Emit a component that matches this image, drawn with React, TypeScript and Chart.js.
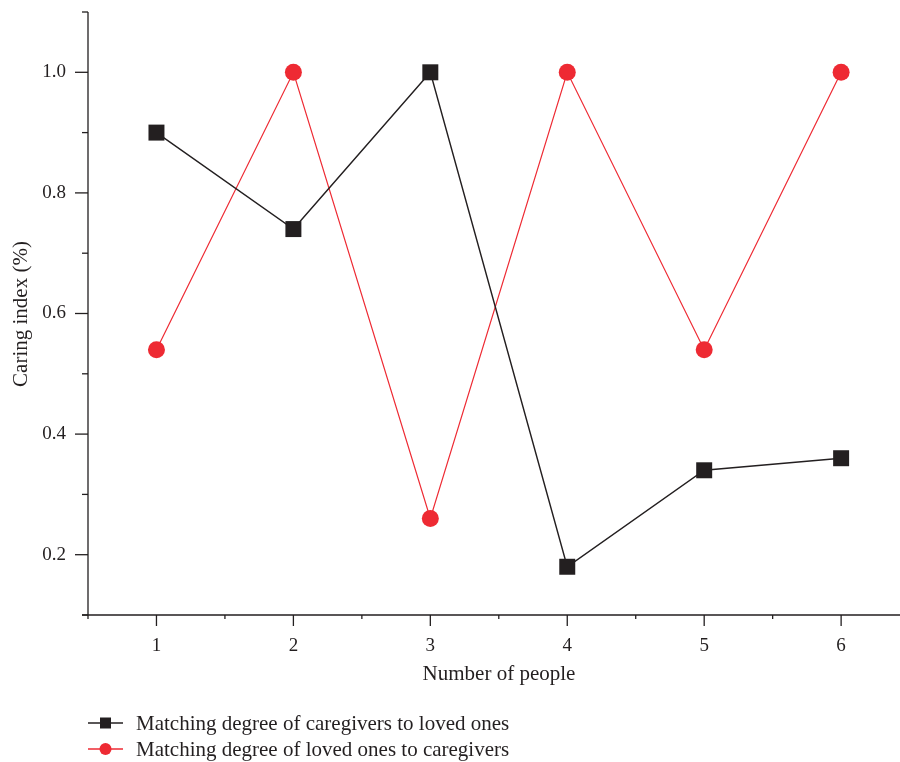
import React, { useEffect, useRef } from "react";
import { Chart, registerables } from "chart.js";

Chart.register(...registerables);

const people = [1, 2, 3, 4, 5, 6];
const caregiversToLovedOnes = [0.9, 0.74, 1.0, 0.18, 0.34, 0.36];
const lovedOnesToCaregivers = [0.54, 1.0, 0.26, 1.0, 0.54, 1.0];
const yTickLabels = [0.2, 0.4, 0.6, 0.8, 1.0];
const seriesNames = [
  "Matching degree of caregivers to loved ones",
  "Matching degree of loved ones to caregivers",
];

const BLACK = "#231f20";
const RED = "#ee2a33";
const FONT = '"Liberation Serif", "Times New Roman", serif';

// Axes, ticks, titles and legend drawn with the chart's own scales
const axesPlugin = {
  id: "originAxes",
  afterDraw(chart: any) {
    const { ctx, chartArea } = chart;
    const xs = chart.scales.x;
    const ys = chart.scales.y;
    const { left, right, top, bottom } = chartArea;
    ctx.save();
    ctx.strokeStyle = BLACK;
    ctx.fillStyle = BLACK;
    ctx.lineWidth = 1.3;

    // axis lines
    ctx.beginPath();
    ctx.moveTo(left, top);
    ctx.lineTo(left, bottom);
    ctx.moveTo(left - 6, bottom);
    ctx.lineTo(right, bottom);
    ctx.stroke();

    // y ticks (major every 0.2, minor in between)
    ctx.font = `19px ${FONT}`;
    ctx.textAlign = "right";
    ctx.textBaseline = "middle";
    for (let i = 1; i <= 11; i++) {
      const v = i / 10;
      const py = ys.getPixelForValue(v);
      const major = i % 2 === 0;
      ctx.beginPath();
      ctx.moveTo(left, py);
      ctx.lineTo(left - (major ? 13 : 6), py);
      ctx.stroke();
    }
    yTickLabels.forEach((v) => {
      const py = ys.getPixelForValue(v);
      ctx.fillText(v.toFixed(1), left - 22, py);
    });

    // x ticks (major on integers, minor at halves)
    ctx.textAlign = "center";
    ctx.textBaseline = "middle";
    for (let v = 0.5; v <= xs.max + 1e-9; v += 0.5) {
      const px = xs.getPixelForValue(v);
      const major = Number.isInteger(v);
      ctx.beginPath();
      ctx.moveTo(px, bottom);
      ctx.lineTo(px, bottom + (major ? 11 : 4));
      ctx.stroke();
    }
    people.forEach((p) => {
      ctx.fillText(String(p), xs.getPixelForValue(p), bottom + 31);
    });

    // axis titles
    ctx.font = `21px ${FONT}`;
    ctx.fillText("Number of people", (left + right) / 2 + 5, bottom + 59);
    ctx.save();
    ctx.translate(21, 314);
    ctx.rotate(-Math.PI / 2);
    ctx.fillText("Caring index (%)", 0, 0);
    ctx.restore();

    // legend
    ctx.textAlign = "left";
    ctx.textBaseline = "middle";
    chart.data.datasets.forEach((ds: any, i: number) => {
      const cy = 723 + i * 26;
      const lx = 88;
      ctx.strokeStyle = ds.borderColor;
      ctx.lineWidth = 1.3;
      ctx.beginPath();
      ctx.moveTo(lx, cy);
      ctx.lineTo(lx + 35, cy);
      ctx.stroke();
      ctx.fillStyle = ds.backgroundColor;
      ctx.beginPath();
      if (ds.pointStyle === "rect") {
        ctx.rect(lx + 17.5 - 5.5, cy - 5.5, 11, 11);
      } else {
        ctx.arc(lx + 17.5, cy, 6, 0, Math.PI * 2);
      }
      ctx.fill();
      ctx.fillStyle = BLACK;
      ctx.fillText(seriesNames[i], 136, cy + 1);
    });
    ctx.restore();
  },
};

export default function App() {
  const ref = useRef<HTMLCanvasElement | null>(null);

  useEffect(() => {
    if (!ref.current) return;
    const chart = new Chart(ref.current, {
      type: "line",
      data: {
        datasets: [
          {
            label: seriesNames[0],
            data: people.map((p, i) => ({ x: p, y: caregiversToLovedOnes[i] })),
            borderColor: BLACK,
            backgroundColor: BLACK,
            borderWidth: 1.4,
            pointStyle: "rect",
            pointRadius: 11.3,
            pointBorderWidth: 0,
            pointBackgroundColor: BLACK,
            tension: 0,
            clip: false,
          },
          {
            label: seriesNames[1],
            data: people.map((p, i) => ({ x: p, y: lovedOnesToCaregivers[i] })),
            borderColor: RED,
            backgroundColor: RED,
            borderWidth: 1.2,
            pointStyle: "circle",
            pointRadius: 8.5,
            pointBorderWidth: 0,
            pointBackgroundColor: RED,
            tension: 0,
            clip: false,
          },
        ],
      },
      options: {
        responsive: false,
        animation: false,
        layout: { autoPadding: false, padding: { left: 88, right: 0, top: 12, bottom: 147 } },
        plugins: { legend: { display: false }, tooltip: { enabled: false } },
        scales: {
          x: { type: "linear", min: 0.5, max: 6.43, display: false },
          y: { type: "linear", min: 0.1, max: 1.1, display: false },
        },
      },
      plugins: [axesPlugin],
    });
    return () => chart.destroy();
  }, []);

  return (
    <div style={{ position: "absolute", left: 0, top: 0, width: 900, height: 762, background: "#fff" }}>
      <canvas ref={ref} width={900} height={762} style={{ display: "block" }} />
    </div>
  );
}
